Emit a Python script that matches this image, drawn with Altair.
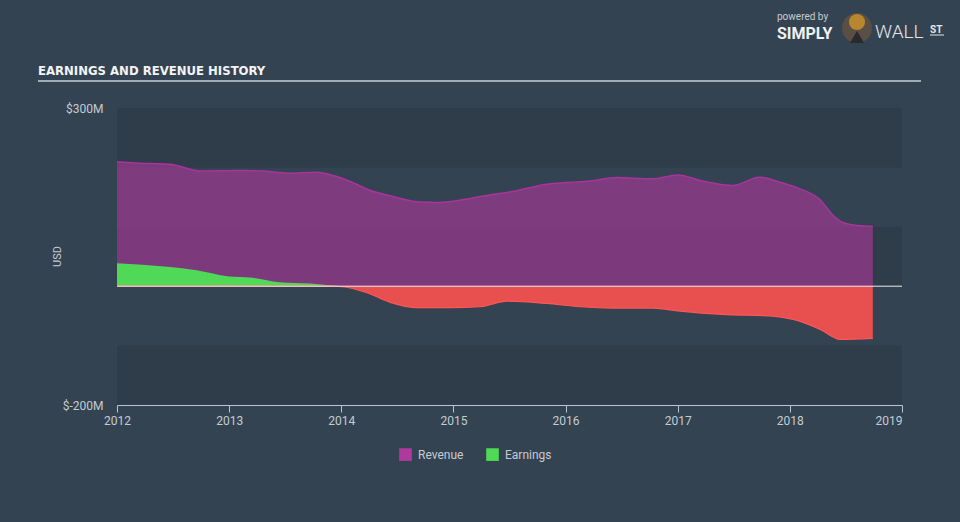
import altair as alt
import pandas as pd

# ---- data (USD millions) ----
rev_year = [2012.00, 2012.29, 2012.47, 2012.74, 2013.10, 2013.30, 2013.52, 2013.78, 2013.93,
            2014.08, 2014.26, 2014.46, 2014.70, 2014.85, 2015.08, 2015.33, 2015.50, 2015.83,
            2016.22, 2016.46, 2016.77, 2017.00, 2017.22, 2017.49, 2017.73, 2017.91, 2018.09,
            2018.27, 2018.38, 2018.47, 2018.60, 2018.74]
rev_val = [209.7, 206.4, 205.4, 194.1, 194.6, 194.1, 190.3, 192.0, 186.2,
           176.2, 161.1, 151.0, 141.6, 140.9, 145.5, 153.9, 158.4, 171.8,
           177.3, 182.9, 180.7, 187.4, 177.3, 169.5, 183.6, 175.2, 163.9,
           145.5, 120.3, 107.4, 102.3, 100.7]

earn_year = [2012.00, 2012.45, 2012.71, 2012.98, 2013.21, 2013.45, 2013.72, 2013.92, 2014.03,
             2014.23, 2014.43, 2014.68, 2014.97, 2015.24, 2015.48, 2015.83, 2016.13, 2016.42,
             2016.78, 2017.02, 2017.40, 2017.85, 2018.03, 2018.27, 2018.45, 2018.74]
earn_val = [38.6, 32.6, 26.8, 16.8, 14.1, 6.7, 4.5, 1.2, -1.3,
            -11.1, -26.8, -36.2, -36.2, -34.6, -25.2, -29.0, -34.6, -36.9,
            -36.9, -41.9, -47.5, -50.3, -55.9, -72.7, -89.5, -87.8]

band_lo = [200, 0, -200]
band_hi = [300, 100, -100]
x_ticks = [2012, 2013, 2014, 2015, 2016, 2017, 2018, 2019]
y_ticks = [-200, 300]
series = ["Revenue", "Earnings"]
series_colors = ["#b0399f", "#4fd957"]

BG = "#344351"
TXT = "#c4cbd3"
FONT = "Roboto"

rev = pd.DataFrame({"year": rev_year, "value": rev_val, "series": "Revenue"})
earn = pd.DataFrame({"year": earn_year, "value": earn_val, "series": "Earnings"})
bands = pd.DataFrame({"lo": band_lo, "hi": band_hi, "x0": x_ticks[0], "x1": x_ticks[-1]})

xs = alt.Scale(domain=[2012, 2019], nice=False, zero=False)
ys = alt.Scale(domain=[-200, 300], nice=False)
cs = alt.Scale(domain=series, range=series_colors)

x_axis = alt.Axis(values=x_ticks, format="d", title=None, grid=False,
                  domainColor="#b9c6d3", tickColor="#b9c6d3", tickSize=7,
                  labelColor=TXT, labelFontSize=12, labelFont=FONT, labelPadding=3,
                  labelFlush=False,
                  labelAlign={"condition": {"test": "datum.value == 2019", "value": "right"},
                              "value": "center"})
y_axis = alt.Axis(values=y_ticks, labelExpr="'$' + datum.value + 'M'", grid=False,
                  ticks=False, domain=False, labelPadding=14, labelColor=TXT,
                  labelFontSize=12, labelFont=FONT, title="USD", titleColor=TXT,
                  titleFont=FONT, titleFontSize=11, titleFontWeight="normal",
                  titleX=-55, titleY=148)

band_layer = alt.Chart(bands).mark_rect(color="#2f3d4b").encode(
    x=alt.X("x0:Q", scale=xs, axis=x_axis),
    x2="x1:Q",
    y=alt.Y("lo:Q", scale=ys, axis=y_axis),
    y2="hi:Q",
)

rev_area = alt.Chart(rev).mark_area(interpolate="monotone", opacity=0.6).encode(
    x=alt.X("year:Q", scale=xs),
    y=alt.Y("value:Q", scale=ys),
    color=alt.Color("series:N", scale=cs, sort=series,
                    legend=alt.Legend(title=None, orient="none", direction="horizontal",
                                      legendX=282, legendY=340, symbolType="square",
                                      symbolSize=160, symbolOpacity=1, symbolStrokeWidth=0,
                                      labelColor=TXT, labelFont=FONT, labelFontSize=12,
                                      labelOffset=6, columnPadding=22)),
)
rev_line = alt.Chart(rev).mark_line(interpolate="monotone", color="#a8349c", strokeWidth=1.5).encode(
    x=alt.X("year:Q", scale=xs),
    y=alt.Y("value:Q", scale=ys),
)

earn_pos = alt.Chart(earn).transform_calculate(pos="max(datum.value, 0)").mark_area(
    interpolate="monotone").encode(
    x=alt.X("year:Q", scale=xs),
    y=alt.Y("pos:Q", scale=ys),
    color=alt.Color("series:N", scale=cs, sort=series),
)
earn_neg = alt.Chart(earn).transform_calculate(neg="min(datum.value, 0)").mark_area(
    interpolate="monotone", color="#e84f4f").encode(
    x=alt.X("year:Q", scale=xs),
    y=alt.Y("neg:Q", scale=ys),
)
earn_neg_line = alt.Chart(earn).transform_calculate(neg="min(datum.value, 0)").mark_line(
    interpolate="monotone", color="#ff5555", strokeWidth=1.2).encode(
    x=alt.X("year:Q", scale=xs),
    y=alt.Y("neg:Q", scale=ys),
)

zero = alt.Chart(pd.DataFrame({"z": [0]})).mark_rule(color="#ffffff", strokeWidth=1, opacity=0.9).encode(
    y=alt.Y("z:Q", scale=ys),
)

# ---- decorations: title, underline, logo ----
title = alt.Chart(pd.DataFrame({"t": ["EARNINGS AND REVENUE HISTORY"]})).mark_text(
    align="left", baseline="alphabetic", font="'DejaVu Sans Condensed', 'DejaVu Sans', sans-serif",
    fontWeight="bold", fontSize=13, color="#f2f4f6").encode(
    x=alt.value(-79), y=alt.value(-33), text="t:N")
underline = alt.Chart(pd.DataFrame({"a": [0]})).mark_rule(color="#a3abb4", strokeWidth=2).encode(
    x=alt.value(-79), x2=alt.value(804), y=alt.value(-27))

logo_txt = pd.DataFrame({
    "t": ["powered by", "SIMPLY", "WALL", "ST"],
    "px": [660, 660, 758, 813],
    "py": [-88, -69, -70, -75],
})
def logo_text(i, **kw):
    return alt.Chart(logo_txt.iloc[[i]]).mark_text(align="left", baseline="alphabetic",
        font=FONT, **kw).encode(x=alt.X("px:Q", scale=None), y=alt.Y("py:Q", scale=None), text="t:N")

logo_small = logo_text(0, fontSize=10, color="#c7ccd2")
logo_simply = logo_text(1, fontSize=16, fontWeight="bold", color="#eef0f2")
logo_wall = logo_text(2, fontSize=19, fontWeight=300, color="#e4e7ea")
logo_st = logo_text(3, fontSize=10, fontWeight="bold", color="#e4e7ea")
logo_st_line = alt.Chart(pd.DataFrame({"a": [0]})).mark_rule(color="#e4e7ea", strokeWidth=1).encode(
    x=alt.value(813), x2=alt.value(827), y=alt.value(-73))
logo_circle = alt.Chart(pd.DataFrame({"a": [0]})).mark_point(filled=True, shape="circle",
    size=900, color="#5a4e46", opacity=1).encode(x=alt.value(740), y=alt.value(-80))
logo_head = alt.Chart(pd.DataFrame({"a": [0]})).mark_point(filled=True, shape="circle",
    size=260, color="#b8862f", opacity=1).encode(x=alt.value(740), y=alt.value(-86))
logo_suit = alt.Chart(pd.DataFrame({"a": [0]})).mark_point(filled=True, shape="triangle-up",
    size=200, color="#2a2a2e", opacity=1).encode(x=alt.value(740), y=alt.value(-71))

chart = alt.layer(
    band_layer, rev_area, rev_line, earn_pos, earn_neg, earn_neg_line, zero,
    title, underline, logo_circle, logo_suit, logo_head, logo_small, logo_simply,
    logo_wall, logo_st, logo_st_line,
).properties(
    width=785, height=297,
    autosize=alt.AutoSizeParams(type="none"),
    padding={"left": 117, "top": 108, "right": 58, "bottom": 117},
    background=BG,
).configure_view(stroke=None)

chart.save("out.html", embed_options={"renderer": "svg", "actions": False})
